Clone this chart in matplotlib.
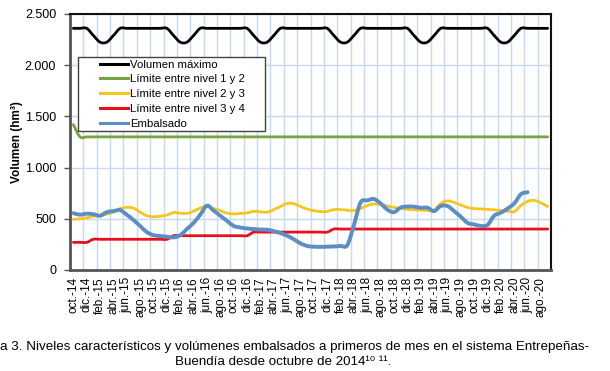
import numpy as np
import matplotlib as mpl

mpl.use('Agg')
import matplotlib.pyplot as plt
from matplotlib.path import Path
from matplotlib.patches import PathPatch, Rectangle
from matplotlib.lines import Line2D

plt.rcParams['font.family'] = ['Liberation Sans', 'DejaVu Sans']

# monthly categories oct-14 .. sep-20 (72 months), labels every two months
tick_labels = [
    "oct.-14", "dic.-14", "feb.-15", "abr.-15", "jun.-15", "ago.-15",
    "oct.-15", "dic.-15", "feb.-16", "abr.-16", "jun.-16", "ago.-16",
    "oct.-16", "dic.-16", "feb.-17", "abr.-17", "jun.-17", "ago.-17",
    "oct.-17", "dic.-17", "feb.-18", "abr.-18", "jun.-18", "ago.-18",
    "oct.-18", "dic.-18", "feb.-19", "abr.-19", "jun.-19", "ago.-19",
    "oct.-19", "dic.-19", "feb.-20", "abr.-20", "jun.-20", "ago.-20",
]
n_months = 72

vol_maximo = [
    2360, 2360, 2360, 2290, 2225, 2225, 2290, 2360, 2360, 2360, 2360, 2360,
    2360, 2360, 2360, 2290, 2225, 2225, 2290, 2360, 2360, 2360, 2360, 2360,
    2360, 2360, 2360, 2290, 2225, 2225, 2290, 2360, 2360, 2360, 2360, 2360,
    2360, 2360, 2360, 2290, 2225, 2225, 2290, 2360, 2360, 2360, 2360, 2360,
    2360, 2360, 2360, 2290, 2225, 2225, 2290, 2360, 2360, 2360, 2360, 2360,
    2360, 2360, 2360, 2290, 2225, 2225, 2290, 2360, 2360, 2360, 2360, 2360,
]
limite_1_2 = [
    1420, 1300, 1300, 1300, 1300, 1300, 1300, 1300, 1300, 1300, 1300, 1300,
    1300, 1300, 1300, 1300, 1300, 1300, 1300, 1300, 1300, 1300, 1300, 1300,
    1300, 1300, 1300, 1300, 1300, 1300, 1300, 1300, 1300, 1300, 1300, 1300,
    1300, 1300, 1300, 1300, 1300, 1300, 1300, 1300, 1300, 1300, 1300, 1300,
    1300, 1300, 1300, 1300, 1300, 1300, 1300, 1300, 1300, 1300, 1300, 1300,
    1300, 1300, 1300, 1300, 1300, 1300, 1300, 1300, 1300, 1300, 1300, 1300,
]
limite_2_3 = [
    495, 500, 510, 525, 535, 545, 565, 600, 612, 605, 565, 530,
    520, 525, 537, 560, 555, 553, 575, 605, 625, 600, 580, 555,
    548, 552, 558, 573, 568, 564, 590, 620, 650, 648, 620, 595,
    580, 570, 572, 590, 590, 585, 580, 600, 630, 645, 640, 625,
    610, 600, 592, 588, 585, 582, 585, 650, 675, 660, 635, 610,
    600, 596, 592, 588, 580, 575, 570, 630, 670, 680, 655, 620,
]
limite_3_4 = [
    270, 270, 270, 300, 300, 300, 300, 300, 300, 300, 300, 300,
    300, 300, 300, 335, 335, 335, 335, 335, 335, 335, 335, 335,
    335, 335, 335, 370, 370, 370, 370, 370, 370, 370, 370, 370,
    370, 370, 370, 400, 400, 400, 400, 400, 400, 400, 400, 400,
    400, 400, 400, 400, 400, 400, 400, 400, 400, 400, 400, 400,
    400, 400, 400, 400, 400, 400, 400, 400, 400, 400, 400, 400,
]
embalsado = [
    555, 540, 550, 545, 530, 565, 575, 585, 540, 488, 430, 370,
    340, 332, 325, 318, 340, 400, 460, 540, 628, 580, 530, 480,
    430, 415, 405, 400, 395, 393, 380, 360, 335, 300, 260, 235,
    228, 226, 228, 230, 235, 242, 440, 660, 680, 693, 650, 590,
    565, 610, 620, 618, 608, 608, 575, 625, 625, 575, 520, 460,
    445, 430, 440, 530, 560, 600, 650, 740, 760,
]

series = [
    ("Volumen máximo", vol_maximo, "#000000", 2.0),
    ("Límite entre nivel 1 y 2", limite_1_2, "#74a343", 2.0),
    ("Límite entre nivel 2 y 3", limite_2_3, "#f7c520", 2.0),
    ("Límite entre nivel 3 y 4", limite_3_4, "#e8101c", 2.0),
    ("Embalsado", embalsado, "#5b8ec4", 2.8),
]


def smooth_path(ys):
    # excel-like smoothed line: catmull-rom segments as cubic beziers
    pts = np.column_stack([np.arange(len(ys)), ys]).astype(float)
    n = len(pts)
    verts = [pts[0]]
    codes = [Path.MOVETO]
    for i in range(n - 1):
        p0 = pts[i - 1] if i > 0 else pts[i]
        p1, p2 = pts[i], pts[i + 1]
        p3 = pts[i + 2] if i + 2 < n else pts[i + 1]
        verts += [p1 + (p2 - p0) / 6, p2 - (p3 - p1) / 6, p2]
        codes += [Path.CURVE4] * 3
    return Path(verts, codes)


fig = plt.figure(figsize=(6.1, 3.71), dpi=100)
ax = fig.add_axes([70 / 610, 1 - 270 / 371, 481 / 610, 256 / 371])

handles = []
for label, values, color, lw in series:
    patch = PathPatch(smooth_path(values), facecolor='none', edgecolor=color,
                      lw=lw, capstyle='round', joinstyle='round')
    ax.add_patch(patch)
    handles.append(Line2D([], [], color=color, lw=2.2, label=label))

ax.set_xlim(-0.5, n_months - 0.5)
ax.set_ylim(0, 2500)

ax.set_xticks(np.arange(0, n_months, 2))
ax.set_xticklabels(tick_labels, rotation=90, fontsize=8.5)
ax.set_xticks(np.arange(1.5, n_months, 2), minor=True)
ax.tick_params(axis='x', which='both', length=0, pad=5)
ax.grid(True, axis='x', which='minor', color='#c6d9ee', lw=1.0)

ax.set_yticks(np.arange(0, 2501, 500))
ax.set_yticklabels(["0", "500", "1.000", "1.500", "2.000", "2.500"], fontsize=9)
ax.tick_params(axis='y', length=4, width=1, color='#555555', pad=6)
ax.grid(True, axis='y', which='major', color='#c6d9ee', lw=1.0)
ax.set_axisbelow(True)

for side in ['top', 'right']:
    ax.spines[side].set_color('#111111')
    ax.spines[side].set_linewidth(1.5)
for side in ['left', 'bottom']:
    ax.spines[side].set_color('#555555')
    ax.spines[side].set_linewidth(2.0)

ax.set_ylabel("Volumen (hm³)", fontsize=8.5, fontweight='bold', labelpad=1)

# legend box drawn separately: Excel leaves wide side padding
ax.add_patch(Rectangle((8 / 481, (270 - 131) / 256), 187 / 481, 74 / 256,
                       transform=ax.transAxes, facecolor='white',
                       edgecolor='#444444', lw=1.0, zorder=4))
leg = ax.legend(handles=handles, loc='upper left',
                bbox_to_anchor=(30 / 481, (270 - 59.5) / 256),
                fontsize=8.2, frameon=False, borderpad=0,
                handlelength=2.5, handletextpad=0.15, labelspacing=0.43,
                borderaxespad=0)
leg.set_zorder(5)

fig.text(0, 1 - 347 / 371, "a 3. Niveles característicos y volúmenes embalsados a primeros de mes en el sistema Entrepeñas-",
         fontsize=9.65, ha='left', va='center')
fig.text(283 / 610, 1 - 362 / 371, "Buendía desde octubre de 2014¹⁰ ¹¹.",
         fontsize=9.65, ha='center', va='center')

fig.savefig("out.png", dpi=100, facecolor='white')
